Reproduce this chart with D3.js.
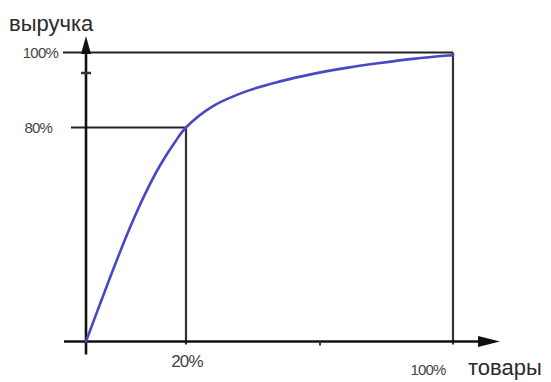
<!DOCTYPE html>
<html>
<head>
<meta charset="utf-8">
<script src="https://cdn.jsdelivr.net/npm/d3@7"></script>
<style>
  html, body { margin: 0; padding: 0; background: #fff; }
  svg { display: block; }
</style>
</head>
<body>
<svg id="chart" width="551" height="382"></svg>
<script>
// Data
const goods   = [0, 2.8, 5.8, 8.8, 11.8, 14.8, 17.8, 20, 28.1, 38.2, 48.2, 58.1, 68.1, 78.1, 88.0, 98.5, 100];
const revenue = [0, 14.0, 28.7, 42.6, 55.1, 65.8, 74.6, 80, 85.7, 89.7, 92.3, 94.3, 95.9, 97.2, 98.3, 99.2, 99.3];
const xTicks = [20, 100];
const xTickLabels = ["20%", "100%"];
const yTicks = [80, 100];
const yTickLabels = ["80%", "100%"];
const xTitle = "товары";
const yTitle = "выручка";

const svg = d3.select("#chart");

// Schematic (piecewise) scales
const x = d3.scaleLinear().domain([0, 20, 100]).range([86, 186, 453]);
const y = d3.scaleLinear().domain([0, 80, 100]).range([341.5, 127.5, 52.5]);

const font = "'Liberation Sans', Arial, sans-serif";

// Guide lines for 100%
svg.append("line")
  .attr("x1", x(0) - 23).attr("x2", x(100))
  .attr("y1", y(100)).attr("y2", y(100))
  .attr("stroke", "#222").attr("stroke-width", 2.2);
svg.append("line")
  .attr("x1", x(100)).attr("x2", x(100))
  .attr("y1", y(100)).attr("y2", y(0) + 3)
  .attr("stroke", "#333").attr("stroke-width", 2.2);

// Guide lines for 80/20
svg.append("line")
  .attr("x1", x(0) - 15).attr("x2", x(20))
  .attr("y1", y(80)).attr("y2", y(80))
  .attr("stroke", "#222").attr("stroke-width", 2.2);
svg.append("line")
  .attr("x1", x(20)).attr("x2", x(20))
  .attr("y1", y(80)).attr("y2", y(0) + 3)
  .attr("stroke", "#333").attr("stroke-width", 2.2);

// Axes
svg.append("line")
  .attr("x1", x(0)).attr("x2", x(0))
  .attr("y1", y(0) + 13).attr("y2", 48)
  .attr("stroke", "#111").attr("stroke-width", 2.6);
svg.append("path")
  .attr("d", `M${x(0)},36 L${x(0) - 5},54 L${x(0) + 5},54 Z`)
  .attr("fill", "#111");
svg.append("line")
  .attr("x1", 64).attr("x2", 485)
  .attr("y1", y(0)).attr("y2", y(0))
  .attr("stroke", "#111").attr("stroke-width", 2.6);
svg.append("path")
  .attr("d", `M500,${y(0)} L478,${y(0) - 5.5} L478,${y(0) + 5.5} Z`)
  .attr("fill", "#111");

// small ticks
svg.append("line")
  .attr("x1", x(0) - 5).attr("x2", x(0) + 5)
  .attr("y1", 73).attr("y2", 73)
  .attr("stroke", "#333").attr("stroke-width", 2.5);
svg.append("line")
  .attr("x1", 320).attr("x2", 320)
  .attr("y1", y(0)).attr("y2", y(0) + 4)
  .attr("stroke", "#333").attr("stroke-width", 2);

// Curve
const line = d3.line()
  .x((d, i) => x(goods[i]))
  .y((d, i) => y(revenue[i]))
  .curve(d3.curveCatmullRom.alpha(0.5));
svg.append("path")
  .attr("d", line(goods))
  .attr("fill", "none")
  .attr("stroke", "#4848c4")
  .attr("stroke-width", 2.6)
  .attr("stroke-linecap", "round");

// Tick labels
const yLabelEnd = [52, 58];
svg.selectAll("text.ylab").data(yTicks).enter().append("text")
  .attr("class", "ylab")
  .attr("x", (d, i) => yLabelEnd[i])
  .attr("y", d => y(d) + 5.5)
  .attr("text-anchor", "end")
  .attr("font-family", font)
  .attr("font-size", 15)
  .attr("letter-spacing", -0.8)
  .attr("fill", "#444")
  .text((d, i) => yTickLabels[i]);

const xLabelDx = [1, -25];
const xLabelDy = [25, 33];
const xLabelSize = [17, 15];
svg.selectAll("text.xlab").data(xTicks).enter().append("text")
  .attr("class", "xlab")
  .attr("x", (d, i) => x(d) + xLabelDx[i])
  .attr("y", (d, i) => y(0) + xLabelDy[i])
  .attr("text-anchor", "middle")
  .attr("font-family", font)
  .attr("font-size", (d, i) => xLabelSize[i])
  .attr("letter-spacing", -0.8)
  .attr("fill", "#444")
  .text((d, i) => xTickLabels[i]);

// Axis titles
svg.append("text")
  .attr("x", 9).attr("y", 31)
  .attr("font-family", font)
  .attr("font-size", 22)
  .attr("fill", "#2a2a2a")
  .text(yTitle);
svg.append("text")
  .attr("x", 468).attr("y", 375)
  .attr("font-family", font)
  .attr("font-size", 22)
  .attr("fill", "#2a2a2a")
  .text(xTitle);
</script>
</body>
</html>
